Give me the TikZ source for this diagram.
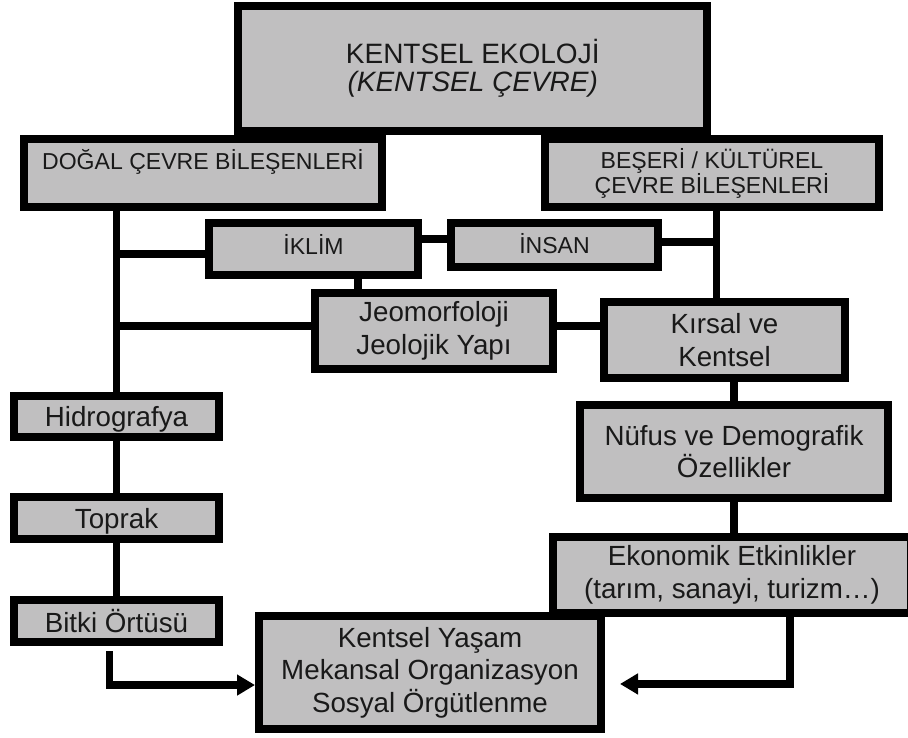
\documentclass[tikz,border=0pt]{standalone}
\usepackage{fontspec}
\setmainfont{Liberation Sans}
\usepackage{xcolor}
\usetikzlibrary{arrows.meta}
\definecolor{kutugri}{RGB}{192,191,192}

\begin{document}
\begin{tikzpicture}[x=0.75pt, y=-0.75pt, >={Triangle[length=13.5pt,width=15pt]},
    kutu/.style={draw=black, line width=6pt, fill=kutugri, inner sep=0pt, align=center, text=black!90},
    baslik/.style={kutu, font=\fontsize{17.3}{18.8}\selectfont},
    metin/.style={kutu, font=\fontsize{20.8}{24.5}\selectfont},
    hat/.style={line width=5.5pt}]

    \useasboundingbox (0,0) rectangle (908,738);

    % Ana kutu
    \node (ekoloji) at (472.75,68.5) [kutu, minimum width=351.4pt, minimum height=93.75pt, font=\fontsize{21}{21}\selectfont] {KENTSEL EKOLOJİ\\\textit{(KENTSEL ÇEVRE)}};

    % Bilesenler
    \node (dogal) at (203,173) [baslik, minimum width=268.5pt, minimum height=51pt, text height=12.4pt, text depth=16.9pt] {DOĞAL ÇEVRE BİLEŞENLERİ};
    \node (beseri) at (712,173) [baslik, minimum width=250.5pt, minimum height=51pt] {BEŞERİ / KÜLTÜREL\\ÇEVRE BİLEŞENLERİ};

    \node (iklim) at (313.5,249) [baslik, minimum width=156.75pt, minimum height=39pt, text height=12.4pt, text depth=4pt] {İKLİM};
    \node (insan) at (554.5,245) [baslik, minimum width=155.25pt, minimum height=33pt, text height=12.4pt, text depth=0pt] {İNSAN};
    \node (jeo) at (434,331) [metin, minimum width=178.5pt, minimum height=57pt] {Jeomorfoloji\\Jeolojik Yapı};
    \node (kirsal) at (724.5,340) [metin, minimum width=180.75pt, minimum height=57pt] {Kırsal ve\\Kentsel};

    % Sol kol
    \node (hidro) at (116.5,416.5) [metin, text depth=0pt, minimum width=153.75pt, minimum height=30.75pt] {Hidrografya};
    \node (toprak) at (116.5,518) [metin, text depth=0pt, minimum width=153.75pt, minimum height=31.5pt] {Toprak};
    \node (bitki) at (116.5,621) [metin, text depth=0pt, minimum width=153.75pt, minimum height=31.5pt] {Bitki Örtüsü};

    % Sag kol
    \node (nufus) at (734,451.5) [metin, minimum width=231pt, minimum height=69.75pt] {Nüfus ve Demografik\\Özellikler};
    \node (ekonomik) at (732,575) [metin, minimum width=268.5pt, minimum height=57pt] {Ekonomik Etkinlikler\\(tarım, sanayi, turizm…)};
    \node (kentsel) at (430,672.5) [metin, minimum width=256.5pt, minimum height=84.75pt] {Kentsel Yaşam\\Mekansal Organizasyon\\Sosyal Örgütlenme};

    \coordinate (sagkol) at ([xshift=3.4pt]beseri.south);

    % Baglantilar
    \draw[hat] (dogal.south -| hidro.north) -- (hidro.north);
    \draw[hat] (hidro.south) -- (toprak.north);
    \draw[hat] (toprak.south) -- (bitki.north);
    \draw[hat] ([yshift=-3.75pt]iklim.west) -- ([yshift=-3.75pt]iklim.west -| hidro.north);
    \draw[hat] ([yshift=3.75pt]jeo.west) -- ([yshift=3.75pt]jeo.west -| hidro.north);
    \draw[hat] ([yshift=4.5pt]insan.west) -- ([yshift=4.5pt]insan.west -| iklim.east);
    \draw[hat] ([yshift=2.25pt]insan.east) -- ([yshift=2.25pt]insan.east -| sagkol);
    \draw[hat] (sagkol) -- (sagkol |- kirsal.north);
    \draw[hat] ([xshift=33.4pt]iklim.south) -- ([xshift=33.4pt]iklim.south |- jeo.north);
    \draw[hat] ([yshift=3.75pt]jeo.east) -- ([yshift=3.75pt]jeo.east -| kirsal.west);
    \draw[hat] (nufus.north |- kirsal.south) -- (nufus.north);
    \draw[hat] (nufus.south) -- (nufus.south |- ekonomik.north);

    % Oklar
    \draw[hat, ->] ([xshift=-5.25pt, yshift=-3.75pt]bitki.south) |- ([yshift=-9.4pt]kentsel.west);
    \draw[hat, ->, shorten >=11.25pt] ([xshift=43.5pt]ekonomik.south) |- ([yshift=-8.6pt]kentsel.east);

\end{tikzpicture}
\end{document}
